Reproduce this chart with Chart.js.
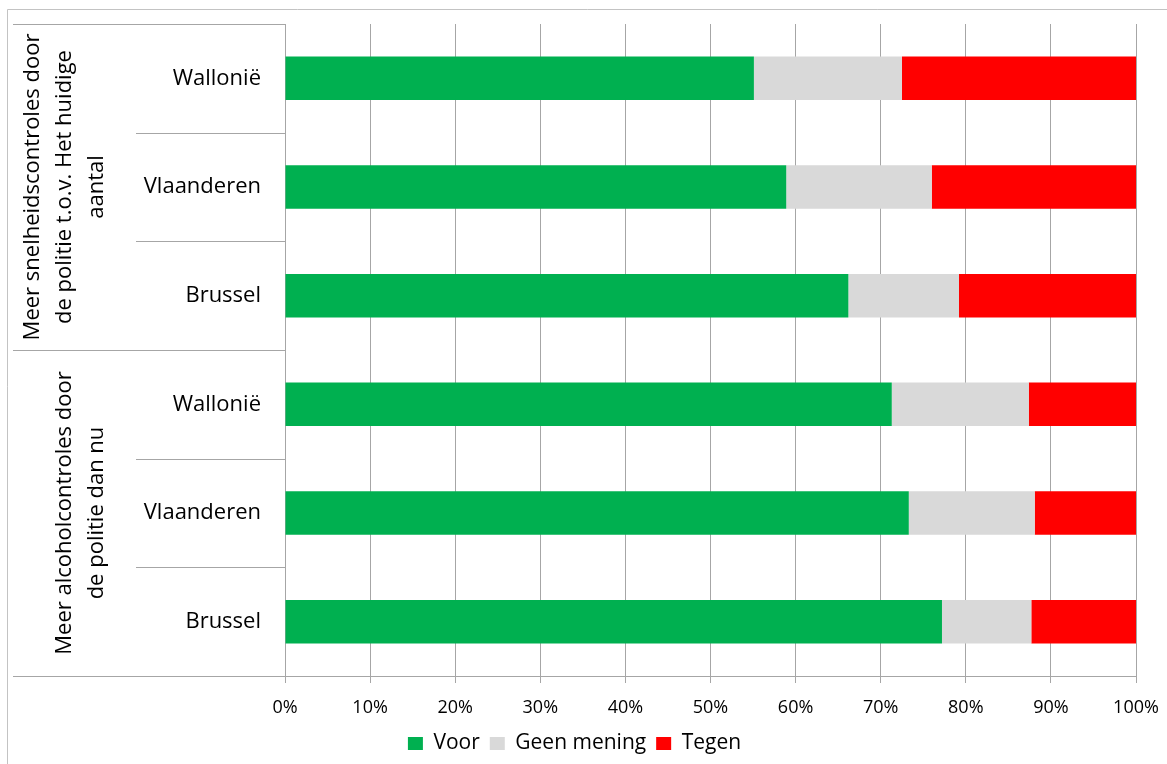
<!DOCTYPE html>
<html>
<head>
<meta charset="utf-8">
<title>Controles door de politie</title>
<script src="https://cdn.jsdelivr.net/npm/chart.js@4"></script>
<style>
  html, body { margin: 0; padding: 0; background: #fff; }
  canvas { display: block; }
</style>
</head>
<body>
<canvas id="grafiek" width="1167" height="764"></canvas>
<script>
// regio's per stelling, van boven naar onder
const regios = ['Wallonië', 'Vlaanderen', 'Brussel', 'Wallonië', 'Vlaanderen', 'Brussel'];

// stellingen (elk over 3 regio's), tekst per regel
const stellingen = [
    ['Meer snelheidscontroles door', 'de politie t.o.v. Het huidige', 'aantal'],
    ['Meer alcoholcontroles door', 'de politie dan nu']
];
const regiosPerStelling = 3;

// percentages
const voor = [55.1, 58.9, 66.2, 71.3, 73.3, 77.2];
const geenMening = [17.4, 17.1, 13.0, 16.1, 14.8, 10.5];
const tegen = [27.5, 24.0, 20.8, 12.6, 11.9, 12.3];

const asTicks = [0, 10, 20, 30, 40, 50, 60, 70, 80, 90, 100];

const FONT = '"Open Sans", "Noto Sans", sans-serif';
const LIJN = '#a6a6a6';

// tekent het kader, de scheidingslijnen links en de rotated stellingen
const linkerLabels = {
    id: 'linkerLabels',
    afterDraw(chart) {
        const ctx = chart.ctx;
        const y = chart.scales.y;
        const area = chart.chartArea;
        const links = 13;
        const stap = (y.getPixelForValue(1) - y.getPixelForValue(0));

        ctx.save();
        // kader rond de figuur
        ctx.strokeStyle = '#c3c3c3';
        ctx.lineWidth = 1;
        ctx.beginPath();
        ctx.moveTo(7.5, chart.height);
        ctx.lineTo(7.5, 9.5);
        ctx.lineTo(chart.width, 9.5);
        ctx.stroke();

        ctx.strokeStyle = LIJN;
        ctx.beginPath();
        // lijnen tussen de regio's
        for (let i = 1; i < regios.length; i++) {
            const py = Math.round(y.getPixelForValue(i) - stap / 2) + 0.5;
            const start = (i % regiosPerStelling === 0) ? links : 136;
            ctx.moveTo(start, py);
            ctx.lineTo(area.left, py);
        }
        // boven- en onderrand
        ctx.moveTo(links, Math.round(area.top) + 0.5);
        ctx.lineTo(area.left, Math.round(area.top) + 0.5);
        ctx.moveTo(links, Math.round(area.bottom) + 0.5);
        ctx.lineTo(area.left, Math.round(area.bottom) + 0.5);
        ctx.stroke();

        // stellingen, van onder naar boven geschreven
        ctx.fillStyle = '#000';
        ctx.font = '22px ' + FONT;
        ctx.textAlign = 'center';
        ctx.textBaseline = 'middle';
        stellingen.forEach((regels, g) => {
            const eerste = g * regiosPerStelling;
            const midden = (y.getPixelForValue(eerste) + y.getPixelForValue(eerste + regiosPerStelling - 1)) / 2;
            regels.forEach((regel, i) => {
                const px = 97 - (regels.length - 1 - i) * 32;
                ctx.save();
                ctx.translate(px, midden);
                ctx.rotate(-Math.PI / 2);
                ctx.fillText(regel, 0, 0);
                ctx.restore();
            });
        });
        ctx.restore();
    }
};

new Chart(document.getElementById('grafiek'), {
    type: 'bar',
    data: {
        labels: regios,
        datasets: [
            { label: 'Voor', data: voor, backgroundColor: '#00b050' },
            { label: 'Geen mening', data: geenMening, backgroundColor: '#d9d9d9' },
            { label: 'Tegen', data: tegen, backgroundColor: '#ff0000' }
        ]
    },
    options: {
        indexAxis: 'y',
        responsive: false,
        animation: false,
        layout: { padding: { left: 13, top: 24, right: 31, bottom: 0 } },
        datasets: { bar: { categoryPercentage: 1, barPercentage: 0.4, borderWidth: 0 } },
        scales: {
            x: {
                stacked: true,
                min: 0,
                max: 100,
                afterBuildTicks(scale) {
                    scale.ticks = asTicks.map(v => ({ value: v }));
                },
                afterFit(scale) {
                    scale.height = 47;
                    scale.paddingLeft = 0;
                    scale.paddingRight = 0;
                },
                grid: { color: LIJN, tickLength: 7, drawTicks: true },
                border: { color: LIJN },
                ticks: {
                    color: '#000',
                    padding: 14,
                    maxRotation: 0,
                    font: { family: FONT, size: 18 },
                    callback: v => v + '%'
                }
            },
            y: {
                stacked: true,
                afterFit(scale) {
                    scale.width = 272;
                    scale.paddingTop = 0;
                    scale.paddingBottom = 0;
                },
                grid: { display: false },
                border: { display: true, color: LIJN },
                ticks: {
                    color: '#000',
                    padding: 16,
                    font: { family: FONT, size: 22 }
                }
            }
        },
        plugins: {
            legend: {
                position: 'bottom',
                labels: {
                    color: '#000',
                    boxWidth: 15,
                    boxHeight: 13,
                    padding: 10,
                    font: { family: FONT, size: 21 }
                }
            },
            tooltip: { enabled: false }
        }
    },
    plugins: [linkerLabels]
});
</script>
</body>
</html>
